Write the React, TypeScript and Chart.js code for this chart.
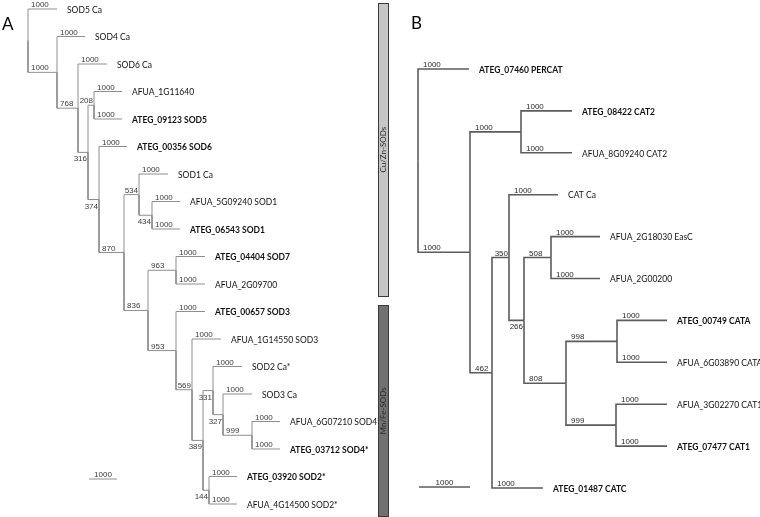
import React, { useEffect, useRef } from 'react';
import { Chart, registerables } from 'chart.js';
Chart.register(...registerables);

// ---------------- Panel A (SODs) ----------------
const leafNamesA = [
  'SOD5 Ca', 'SOD4 Ca', 'SOD6 Ca', 'AFUA_1G11640', 'ATEG_09123 SOD5', 'ATEG_00356 SOD6',
  'SOD1 Ca', 'AFUA_5G09240 SOD1', 'ATEG_06543 SOD1', 'ATEG_04404 SOD7', 'AFUA_2G09700',
  'ATEG_00657 SOD3', 'AFUA_1G14550 SOD3', 'SOD2 Ca*', 'SOD3 Ca', 'AFUA_6G07210 SOD4*',
  'ATEG_03712 SOD4*', 'ATEG_03920 SOD2*', 'AFUA_4G14500 SOD2*',
];
const leafParentA = [0, 1, 2, 4, 4, 5, 7, 8, 8, 10, 10, 11, 12, 14, 15, 16, 16, 17, 17];
const leafLengthA = [0.29, 0.28, 0.29, 0.28, 0.28, 0.28, 0.29, 0.28, 0.28, 0.29, 0.29, 0.29, 0.29, 0.29, 0.29, 0.28, 0.28, 0.28, 0.28];
const leafSupportA = [1000, 1000, 1000, 1000, 1000, 1000, 1000, 1000, 1000, 1000, 1000, 1000, 1000, 1000, 1000, 1000, 1000, 1000, 1000];
const nodeParentA = [-1, 0, 1, 2, 3, 3, 5, 6, 7, 6, 9, 9, 11, 12, 13, 14, 15, 13];
const nodeLengthA = [0, 0.29, 0.21, 0.10, 0.06, 0.11, 0.25, 0.15, 0.13, 0.24, 0.28, 0.28, 0.16, 0.11, 0.10, 0.10, 0.29, 0.06];
const nodeSupportA: (number | null)[] = [null, 1000, 768, 316, 208, 374, 870, 534, 434, 836, 963, 953, 569, 389, 331, 327, 999, 144];
const labelBelowA = [3, 5, 8, 13, 14, 15, 17];
const groupNamesA = ['Cu/Zn-SODs', 'Mn/Fe-SODs'];
const groupFirstLeafA = [0, 11];
const groupLastLeafA = [10, 18];
const scaleBarLengthA = 0.28;
const scaleBarLabelA = '1000';

// ---------------- Panel B (catalases) ----------------
const leafNamesB = [
  'ATEG_07460 PERCAT', 'ATEG_08422 CAT2', 'AFUA_8G09240 CAT2', 'CAT Ca', 'AFUA_2G18030 EasC',
  'AFUA_2G00200', 'ATEG_00749 CATA', 'AFUA_6G03890 CATA', 'AFUA_3G02270 CAT1', 'ATEG_07477 CAT1',
  'ATEG_01487 CATC',
];
const leafParentB = [0, 2, 2, 4, 6, 6, 8, 8, 9, 9, 3];
const leafLengthB = [0.51, 0.51, 0.51, 0.49, 0.49, 0.49, 0.50, 0.50, 0.51, 0.51, 0.51];
const leafSupportB = [1000, 1000, 1000, 1000, 1000, 1000, 1000, 1000, 1000, 1000, 1000];
const nodeParentB = [-1, 0, 1, 1, 3, 4, 5, 5, 7, 7];
const nodeLengthB = [0, 0.52, 0.51, 0.22, 0.17, 0.15, 0.27, 0.42, 0.51, 0.50];
const nodeSupportB: (number | null)[] = [null, 1000, 1000, 462, 350, 266, 508, 808, 998, 999];
const labelBelowB = [5];
const scaleBarLengthB = 0.51;
const scaleBarLabelB = '1000';

const H = 517;

type Panel = {
  letter: string;
  leafNames: string[]; leafParent: number[]; leafLength: number[]; leafSupport: number[];
  nodeParent: number[]; nodeLength: number[]; nodeSupport: (number | null)[]; labelBelow: number[];
  groupNames: string[]; groupFirst: number[]; groupLast: number[];
  scaleBarLength: number; scaleBarLabel: string;
  // layout
  left: number; width: number; rootPx: number; unitPx: number; firstRowPx: number; rowPx: number;
  lineColor: string; lineWidth: number; supportColor: string; supportOffset: number;
  letterX: number; letterY: number; scaleBarPx: number; scaleBarPy: number;
  groupBarPx: number; groupBarW: number;
};

const panels: Panel[] = [
  {
    letter: 'A', leafNames: leafNamesA, leafParent: leafParentA, leafLength: leafLengthA, leafSupport: leafSupportA,
    nodeParent: nodeParentA, nodeLength: nodeLengthA, nodeSupport: nodeSupportA, labelBelow: labelBelowA,
    groupNames: groupNamesA, groupFirst: groupFirstLeafA, groupLast: groupLastLeafA,
    scaleBarLength: scaleBarLengthA, scaleBarLabel: scaleBarLabelA,
    left: 0, width: 400, rootPx: 28, unitPx: 100, firstRowPx: 9, rowPx: 27.5,
    lineColor: '#8e8e8e', lineWidth: 1, supportColor: '#3a3a3a', supportOffset: 3,
    letterX: 2, letterY: 30, scaleBarPx: 89, scaleBarPy: 479, groupBarPx: 378, groupBarW: 10,
  },
  {
    letter: 'B', leafNames: leafNamesB, leafParent: leafParentB, leafLength: leafLengthB, leafSupport: leafSupportB,
    nodeParent: nodeParentB, nodeLength: nodeLengthB, nodeSupport: nodeSupportB, labelBelow: labelBelowB,
    groupNames: [], groupFirst: [], groupLast: [],
    scaleBarLength: scaleBarLengthB, scaleBarLabel: scaleBarLabelB,
    left: 400, width: 360, rootPx: 18, unitPx: 100, firstRowPx: 69, rowPx: 41.9,
    lineColor: '#5c5c5c', lineWidth: 1.6, supportColor: '#2a2a2a', supportOffset: 5,
    letterX: 11, letterY: 29, scaleBarPx: 19, scaleBarPy: 487, groupBarPx: 0, groupBarW: 0,
  },
];

function layoutTree(p: Panel) {
  const nN = p.nodeParent.length;
  const nodeX = new Array(nN).fill(0);
  for (let i = 0; i < nN; i++) nodeX[i] = p.nodeParent[i] < 0 ? 0 : nodeX[p.nodeParent[i]] + p.nodeLength[i];
  const leafX = p.leafParent.map((par, i) => nodeX[par] + p.leafLength[i]);
  const leafY = p.leafParent.map((_, i) => i);
  const minY = new Array(nN).fill(Infinity);
  const maxY = new Array(nN).fill(-Infinity);
  p.leafParent.forEach((par, i) => { minY[par] = Math.min(minY[par], i); maxY[par] = Math.max(maxY[par], i); });
  const nodeY = new Array(nN).fill(0);
  for (let i = nN - 1; i >= 0; i--) {
    nodeY[i] = (minY[i] + maxY[i]) / 2;
    const par = p.nodeParent[i];
    if (par >= 0) { minY[par] = Math.min(minY[par], nodeY[i]); maxY[par] = Math.max(maxY[par], nodeY[i]); }
  }
  return { nodeX, nodeY, leafX, leafY };
}

const LEAF_FONT = '8.5px Lato';
const LEAF_BOLD = 'bold 8.5px Lato';
const SUP_FONT = '8px "Liberation Sans"';

function TreePanel({ p }: { p: Panel }) {
  const ref = useRef<HTMLCanvasElement>(null);
  useEffect(() => {
    const t = layoutTree(p);
    const datasets: any[] = [];
    const edge = (px: number, py: number, cx: number, cy: number) => {
      datasets.push({
        data: [{ x: px, y: py }, { x: px, y: cy }, { x: cx, y: cy }],
        borderColor: p.lineColor, borderWidth: p.lineWidth, pointRadius: 0, pointHoverRadius: 0,
        showLine: true, fill: false, tension: 0, borderCapStyle: 'butt', borderJoinStyle: 'miter',
      });
    };
    p.nodeParent.forEach((par, i) => {
      if (par >= 0) edge(t.nodeX[par], t.nodeY[par], t.nodeX[i], t.nodeY[i]);
    });
    p.leafParent.forEach((par, i) => edge(t.nodeX[par], t.nodeY[par], t.leafX[i], t.leafY[i]));
    // scale bar
    const sbX0 = (p.scaleBarPx - p.rootPx) / p.unitPx;
    const sbY = (p.scaleBarPy - p.firstRowPx) / p.rowPx;
    datasets.push({
      data: [{ x: sbX0, y: sbY }, { x: sbX0 + p.scaleBarLength, y: sbY }],
      borderColor: p.lineColor, borderWidth: p.lineWidth, pointRadius: 0, showLine: true, fill: false,
    });

    const textPlugin = {
      id: 'treeText',
      afterDatasetsDraw(chart: any) {
        const ctx = chart.ctx as CanvasRenderingContext2D;
        const xs = chart.scales.x, ys = chart.scales.y;
        const X = (v: number) => xs.getPixelForValue(v);
        const Y = (v: number) => ys.getPixelForValue(v);
        ctx.save();
        // leaf names
        ctx.textBaseline = 'middle';
        ctx.textAlign = 'left';
        ctx.fillStyle = '#111';
        p.leafNames.forEach((name, i) => {
          ctx.font = name.startsWith('ATEG') ? LEAF_BOLD : LEAF_FONT;
          ctx.fillText(name, X(t.leafX[i]) + 10, Y(t.leafY[i]) + 1);
        });
        // supports
        ctx.font = SUP_FONT;
        ctx.fillStyle = p.supportColor;
        ctx.textBaseline = 'alphabetic';
        const drawSup = (txt: string, startPx: number, endPx: number, yPx: number, below: boolean) => {
          const w = ctx.measureText(txt).width;
          if (below) {
            ctx.fillText(txt, endPx - 1 - w, yPx + 9);
          } else {
            const left = Math.min(startPx + p.supportOffset, endPx - 1 - w);
            ctx.fillText(txt, left, yPx - 2);
          }
        };
        p.nodeParent.forEach((par, i) => {
          const s = p.nodeSupport[i];
          if (par < 0 || s == null) return;
          drawSup(String(s), X(t.nodeX[par]), X(t.nodeX[i]), Y(t.nodeY[i]), p.labelBelow.includes(i));
        });
        p.leafParent.forEach((par, i) => {
          drawSup(String(p.leafSupport[i]), X(t.nodeX[par]), X(t.leafX[i]), Y(t.leafY[i]), false);
        });
        // scale bar label
        ctx.textAlign = 'center';
        ctx.fillText(p.scaleBarLabel, (X(sbX0) + X(sbX0 + p.scaleBarLength)) / 2, Y(sbY) - 2);
        // group bars
        p.groupNames.forEach((g, gi) => {
          const top = Y(p.groupFirst[gi] - 0.22);
          const bot = Y(p.groupLast[gi] + 0.45);
          const x0 = p.groupBarPx;
          ctx.fillStyle = gi === 0 ? '#c6c6c6' : '#717171';
          ctx.fillRect(x0, top, p.groupBarW, bot - top);
          ctx.strokeStyle = '#3a3a3a';
          ctx.lineWidth = 1;
          ctx.strokeRect(x0 + 0.5, Math.round(top) + 0.5, p.groupBarW, Math.round(bot - top));
          ctx.save();
          ctx.translate(x0 + p.groupBarW / 2 + 0.5, (top + bot) / 2);
          ctx.rotate(-Math.PI / 2);
          ctx.font = '8px Lato';
          ctx.fillStyle = '#2a2a2a';
          ctx.textAlign = 'center';
          ctx.textBaseline = 'middle';
          ctx.fillText(g, 0, 0);
          ctx.restore();
        });
        // panel letter
        ctx.font = '17px Lato';
        ctx.fillStyle = '#000';
        ctx.textAlign = 'left';
        ctx.textBaseline = 'alphabetic';
        ctx.fillText(p.letter, p.letterX, p.letterY);
        ctx.restore();
      },
    };

    const chart = new Chart(ref.current!, {
      type: 'scatter',
      data: { datasets },
      options: {
        responsive: false,
        maintainAspectRatio: false,
        devicePixelRatio: 1,
        animation: false,
        events: [],
        layout: { padding: 0 },
        plugins: { legend: { display: false }, tooltip: { enabled: false } },
        scales: {
          x: { type: 'linear', display: false, min: -p.rootPx / p.unitPx, max: (p.width - p.rootPx) / p.unitPx },
          y: { type: 'linear', display: false, reverse: true, min: -p.firstRowPx / p.rowPx, max: (H - p.firstRowPx) / p.rowPx },
        },
      },
      plugins: [textPlugin],
    } as any);
    return () => chart.destroy();
  }, [p]);
  return (
    <canvas ref={ref} width={p.width} height={H}
      style={{ position: 'absolute', left: p.left, top: 0, width: p.width, height: H }} />
  );
}

export default function App() {
  return (
    <div style={{ position: 'fixed', left: 0, top: 0, width: 760, height: H, background: '#fff' }}>
      {panels.map((p) => <TreePanel key={p.letter} p={p} />)}
    </div>
  );
}
